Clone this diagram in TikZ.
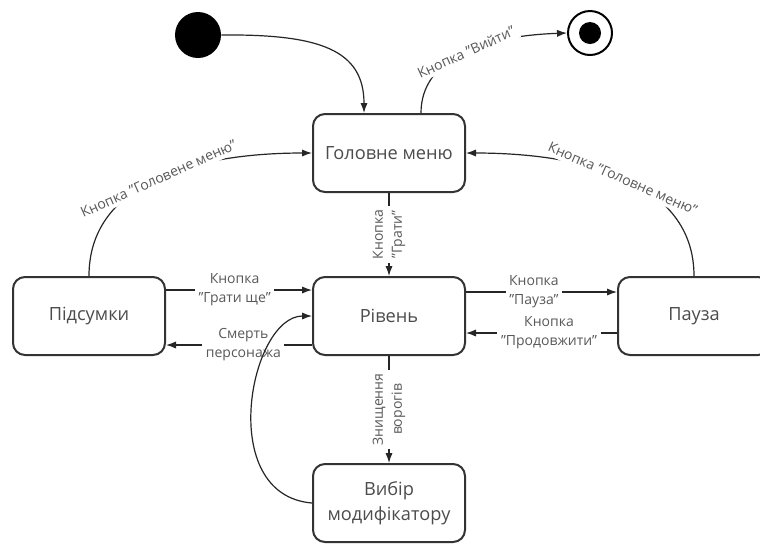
\documentclass[tikz,border=0pt]{standalone}
\usepackage{fontspec}
\setmainfont{Open Sans}
\usetikzlibrary{arrows.meta}

\begin{document}
\begin{tikzpicture}[x=0.5pt,y=-0.5pt,
  stbox/.style={draw=black!80, line width=1pt, rounded corners=6pt,
    minimum width=76pt, minimum height=39pt, align=center, fill=white,
    font=\fontsize{9.1}{12.3}\selectfont, text=black!70},
  conn/.style={draw=black!85, line width=0.6pt,
    -{Latex[length=5pt,width=3.6pt]}},
  lbl/.style={font=\fontsize{7}{9.5}\selectfont, text=black!65,
    fill=white, inner sep=1.8pt, align=center},
]
\useasboundingbox[fill=white] (0,0) rectangle (760,543);

% states
\node[stbox] (gm)  at (389,153) {Головне меню};
\node[stbox] (riv) at (389,316) {Рівень};
\node[stbox] (pid) at (89,316)  {Підсумки};
\node[stbox] (pau) at (694,316) {Пауза};
\node[stbox] (vib) at (389,503) {Вибір\\модифікатору};

% initial and final pseudo-states
\node[circle, fill=black, minimum size=23pt, inner sep=0] (init) at (198,35) {};
\node[circle, draw=black, line width=1pt, minimum size=22pt, inner sep=0] (fin) at (590,33) {};
\node[circle, fill=black, minimum size=11pt, inner sep=0] (fincore) at (fin) {};

% transitions
\draw[conn] (init.east) .. controls (320,34) and (364,50) .. ([xshift=-12.5pt]gm.north);
\draw[conn] ([xshift=16pt]gm.north) .. controls (421,60) and (480,36) .. (fin.west)
  node[lbl, sloped, pos=0.53] {Кнопка "Вийти"};

\draw[conn] (pid.north) .. controls (89,180) and (200,153) .. (gm.west)
  node[lbl, sloped, pos=0.5] {Кнопка "Головене меню"};
\draw[conn] (pau.north) .. controls (694,180) and (580,153) .. (gm.east)
  node[lbl, sloped, pos=0.5] {Кнопка "Головне меню"};

\draw[conn] (gm.south) -- (riv.north)
  node[lbl, rotate=90, pos=0.5] {Кнопка\\"Грати"};
\draw[conn] (riv.south) -- (vib.north)
  node[lbl, rotate=90, pos=0.5] {Знищення\\ворогів};

\draw[conn] ([yshift=13pt]pid.east) -- ([yshift=13pt]riv.west)
  node[lbl, pos=0.47] {Кнопка\\"Грати ще"};
\draw[conn] ([yshift=-14.5pt]riv.west) -- ([yshift=-14.5pt]pid.east)
  node[lbl, pos=0.47] {Смерть\\персонажа};

\draw[conn] ([yshift=12pt]riv.east) -- ([yshift=12pt]pau.west)
  node[lbl, pos=0.45] {Кнопка\\"Пауза"};
\draw[conn] ([yshift=-8.5pt]pau.west) -- ([yshift=-8.5pt]riv.east)
  node[lbl, pos=0.45] {Кнопка\\"Продовжити"};

\draw[conn] (vib.west) .. controls (215,495) and (250,316) .. (riv.west);
\end{tikzpicture}
\end{document}
